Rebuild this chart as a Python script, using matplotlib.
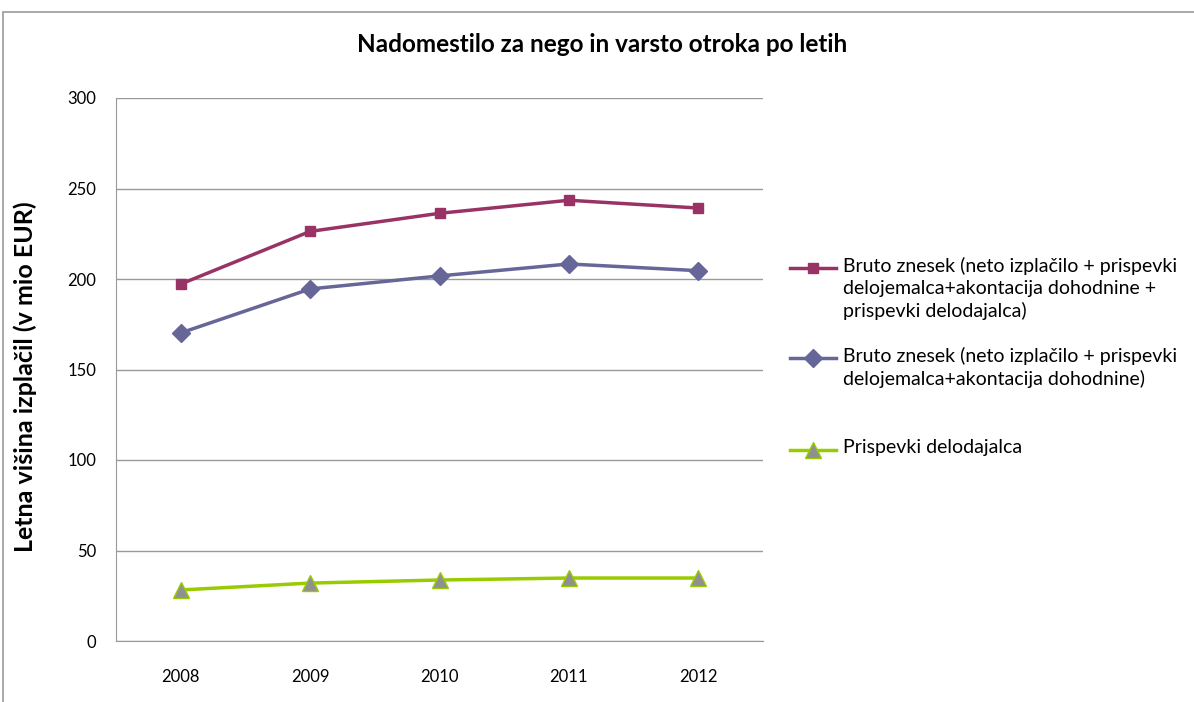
import matplotlib.pyplot as plt
from matplotlib.lines import Line2D
from matplotlib.patches import Rectangle

years = ["2008", "2009", "2010", "2011", "2012"]
bruto_all = [197.2, 226.3, 236.3, 243.5, 239.2]
bruto_emp = [170.2, 194.5, 201.7, 208.3, 204.6]
prispevki = [28.2, 32.0, 33.7, 34.8, 34.8]

labels = [
    "Bruto znesek (neto izplačilo + prispevki\ndelojemalca+akontacija dohodnine +\nprispevki delodajalca)",
    "Bruto znesek (neto izplačilo + prispevki\ndelojemalca+akontacija dohodnine)",
    "Prispevki delodajalca",
]

plt.rcParams['font.family'] = ['Lato', 'DejaVu Sans']

fig = plt.figure(figsize=(11.94, 7.02), dpi=100)
W, H = 1194, 702
fig.patches.append(Rectangle((3 / W, -0.1), 1.2, 1.1 - 12 / H,
                             transform=fig.transFigure, fill=False,
                             edgecolor='#999999', linewidth=1.2))

ax = fig.add_axes([116 / W, 61 / H, 647 / W, 543 / H])
x = range(len(years))

styles = [
    dict(color='#993366', lw=2.5, marker='s', ms=7),
    dict(color='#666699', lw=2.5, marker='D', ms=9),
    dict(color='#99CC00', lw=2.5, marker='^', ms=11,
         markerfacecolor='#909090', markeredgecolor='#99CC00'),
]
for vals, st in zip([bruto_all, bruto_emp, prispevki], styles):
    ax.plot(x, vals, zorder=3, **st)

ax.set_xlim(-0.5, len(years) - 0.5)
ax.set_ylim(0, 300)
ax.set_yticks(range(0, 301, 50))
ax.set_xticks(list(x))
ax.set_xticklabels(years)
ax.yaxis.grid(True, color='#999999', lw=1)
ax.set_axisbelow(True)
for s in ['top', 'right']:
    ax.spines[s].set_visible(False)
for s in ['left', 'bottom']:
    ax.spines[s].set_color('#999999')
ax.tick_params(length=0, labelsize=12, pad=14)
ax.tick_params(axis='x', pad=20)

fig.text(0.5046, 1 - 45 / H, "Nadomestilo za nego in varsto otroka po letih",
         fontsize=17.5, fontweight='bold', ha='center', va='center')
ax.set_ylabel("Letna višina izplačil (v mio EUR)", fontsize=18, fontweight='bold')
ax.yaxis.set_label_coords(-79 / 647, 0.486)

# legend drawn by hand so the key sits beside the first line of each label
for lab, st, yc in zip(labels, styles, [268, 358, 450]):
    yf = 1 - yc / H
    fig.add_artist(Line2D([790 / W, 836 / W], [yf, yf], transform=fig.transFigure,
                          markevery=[], **st))
    fig.add_artist(Line2D([813 / W], [yf], transform=fig.transFigure,
                          **{k: v for k, v in st.items() if k != 'lw'}))
    fig.text(843 / W, 1 - (yc - 11) / H, lab, fontsize=14, va='top', ha='left',
             linespacing=1.35)

fig.savefig("out.png", dpi=100)
